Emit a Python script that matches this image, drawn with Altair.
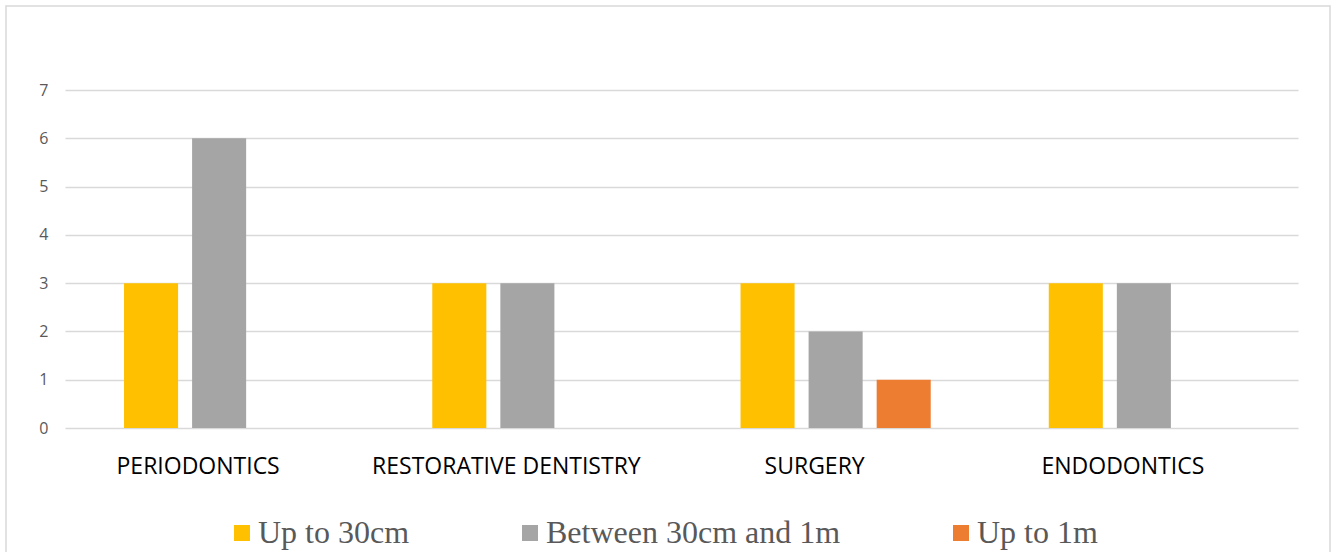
import altair as alt
import pandas as pd

# Counts per dental specialty, grouped by distance
specialties = ["PERIODONTICS", "RESTORATIVE DENTISTRY", "SURGERY", "ENDODONTICS"]
distances = ["Up to 30cm", "Between 30cm and 1m", "Up to 1m"]
up_to_30cm = [3, 3, 3, 3]
between_30cm_1m = [6, 3, 2, 3]
up_to_1m = [0, 0, 1, 0]
colors = ["#FFC000", "#A5A5A5", "#ED7D31"]

rows = []
for series, values in zip(distances, [up_to_30cm, between_30cm_1m, up_to_1m]):
    for spec, v in zip(specialties, values):
        rows.append({"specialty": spec, "distance": series, "count": v})
df = pd.DataFrame(rows)

bars = alt.Chart(df).mark_bar().encode(
    x=alt.X(
        "specialty:N",
        sort=specialties,
        title=None,
        scale=alt.Scale(paddingInner=0.383, paddingOuter=0.1915),
        axis=alt.Axis(
            labelAngle=0,
            labelFont="Open Sans",
            labelFontSize=23,
            labelColor="#000000",
            labelPadding=27,
            labelOffset=-21,
            labelLimit=600,
            domain=False,
            ticks=False,
            grid=False,
        ),
    ),
    xOffset=alt.XOffset(
        "distance:N",
        sort=distances,
        scale=alt.Scale(paddingInner=0.206, paddingOuter=0),
    ),
    y=alt.Y(
        "count:Q",
        title=None,
        scale=alt.Scale(domain=[0, 7], nice=False),
        axis=alt.Axis(
            values=[0, 1, 2, 3, 4, 5, 6, 7],
            labelFont="Open Sans",
            labelFontSize=16,
            labelColor="#595959",
            labelPadding=17,
            domain=False,
            ticks=False,
            grid=True,
            gridColor="#D9D9D9",
            gridWidth=1.3,
        ),
    ),
    color=alt.Color(
        "distance:N",
        sort=distances,
        scale=alt.Scale(domain=distances, range=colors),
        legend=alt.Legend(
            title=None,
            orient="none",
            direction="horizontal",
            legendX=161,
            legendY=427,
            symbolType="square",
            symbolSize=256,
            symbolStrokeWidth=0,
            labelFont="Liberation Serif",
            labelFontSize=32,
            labelColor="#595959",
            labelOffset=0,
            columnPadding=104,
            labelLimit=600,
        ),
    ),
)

# Light outer frame around the whole figure
frame = alt.Chart(pd.DataFrame({"k": [0]})).mark_rect(
    fill=None, stroke="#D9D9D9", strokeWidth=1.5
).encode(
    x=alt.value(-59),
    x2=alt.value(1265),
    y=alt.value(-84),
    y2=alt.value(480),
)

chart = alt.layer(frame, bars).properties(
    width=1233,
    height=338,
    autosize=alt.AutoSizeParams(type="none"),
    padding={"left": 65, "top": 90, "right": 39, "bottom": 124},
    background="#FFFFFF",
).configure_view(stroke=None)

chart.save("out.html", embed_options={"renderer": "svg", "actions": False})
